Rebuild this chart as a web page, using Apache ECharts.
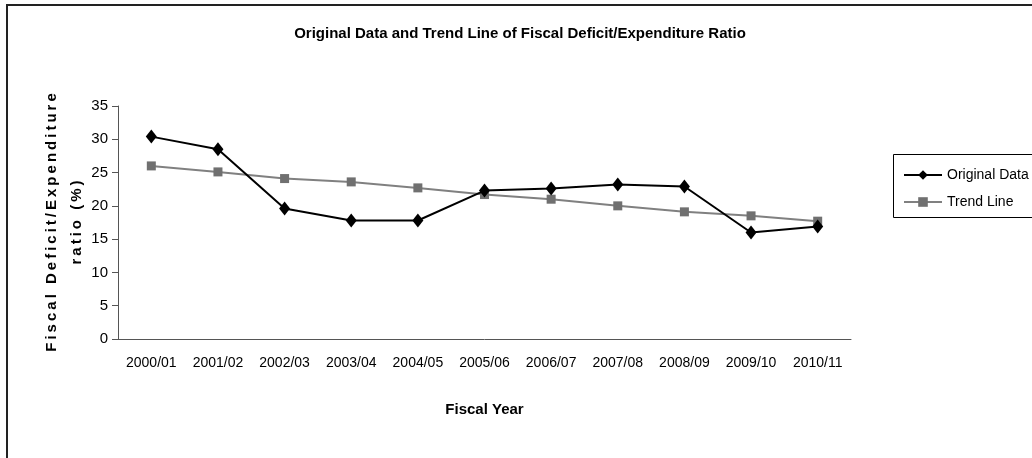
<!DOCTYPE html>
<html>
<head>
<meta charset="utf-8">
<script src="https://cdn.jsdelivr.net/npm/echarts@6/dist/echarts.min.js"></script>
<style>
  html, body { margin: 0; padding: 0; background: #fff; }
  #main { width: 1032px; height: 458px; }
</style>
</head>
<body>
<div id="main"></div>
<script>
  const years = ['2000/01', '2001/02', '2002/03', '2003/04', '2004/05', '2005/06',
    '2006/07', '2007/08', '2008/09', '2009/10', '2010/11']
  const originalData = [30.4, 28.5, 19.6, 17.8, 17.8, 22.3, 22.6, 23.2, 22.9, 16.0, 16.9]
  const trendLine = [26.0, 25.1, 24.1, 23.6, 22.7, 21.7, 21.0, 20.0, 19.1, 18.5, 17.7]

  const narrow = "'Liberation Sans Narrow', 'Arial Narrow', 'Liberation Sans', sans-serif"
  // spaced out like the original axis title
  const spaced = s => s.split('').join('\u2009')

  let myechart = echarts.init(document.getElementById('main'))
  let option = {
    animation: false,
    backgroundColor: '#fff',
    title: {
      text: 'Original Data and Trend Line of Fiscal Deficit/Expenditure Ratio',
      left: 515,
      textAlign: 'center',
      top: 21,
      textStyle: { fontFamily: narrow, fontSize: 15, fontWeight: 'bold', color: '#000' }
    },
    graphic: [
      { type: 'rect', shape: { x: 7, y: 5, width: 1200, height: 600 },
        style: { fill: 'none', stroke: '#222', lineWidth: 2 } },
      { type: 'rect', shape: { x: 893.5, y: 154.5, width: 300, height: 63 },
        style: { fill: 'none', stroke: '#000', lineWidth: 1 } }
    ],
    legend: {
      orient: 'vertical',
      left: 898,
      top: 163,
      itemWidth: 38,
      itemHeight: 12,
      itemGap: 13,
      textStyle: { fontFamily: narrow, fontSize: 14, color: '#000' },
      data: ['Original Data', 'Trend Line']
    },
    grid: { left: 118, right: 181, top: 106, bottom: 119 },
    xAxis: {
      type: 'category',
      data: years,
      name: 'Fiscal Year',
      nameLocation: 'middle',
      nameGap: 63,
      nameTextStyle: { fontFamily: narrow, fontSize: 15, fontWeight: 'bold', color: '#000' },
      axisLine: { lineStyle: { color: '#555', width: 1 } },
      axisTick: { length: 6, lineStyle: { color: '#555' } },
      axisLabel: { fontFamily: narrow, fontSize: 14, color: '#000', margin: 17, interval: 0 }
    },
    yAxis: {
      type: 'value',
      min: 0,
      max: 35,
      interval: 5,
      name: spaced('Fiscal Deficit/Expenditure') + '\n' + spaced('ratio (%)'),
      nameLocation: 'middle',
      nameGap: 29,
      nameMoveOverlap: false,
      nameTextStyle: { fontSize: 15, fontWeight: 'bold', color: '#000', lineHeight: 25 },
      splitLine: { show: false },
      axisLine: { show: true, lineStyle: { color: '#555', width: 1 } },
      axisTick: { show: true, length: 6, lineStyle: { color: '#555' } },
      axisLabel: { fontFamily: narrow, fontSize: 15, color: '#000', margin: 10 }
    },
    series: [
      {
        name: 'Original Data',
        type: 'line',
        data: originalData,
        symbol: 'diamond',
        symbolSize: [11, 14],
        itemStyle: { color: '#000' },
        lineStyle: { color: '#000', width: 2 },
        z: 3
      },
      {
        name: 'Trend Line',
        type: 'line',
        data: trendLine,
        symbol: 'rect',
        symbolSize: 9,
        itemStyle: { color: '#707070' },
        lineStyle: { color: '#808080', width: 2 },
        z: 2
      }
    ]
  }
  myechart.setOption(option)
</script>
</body>
</html>
